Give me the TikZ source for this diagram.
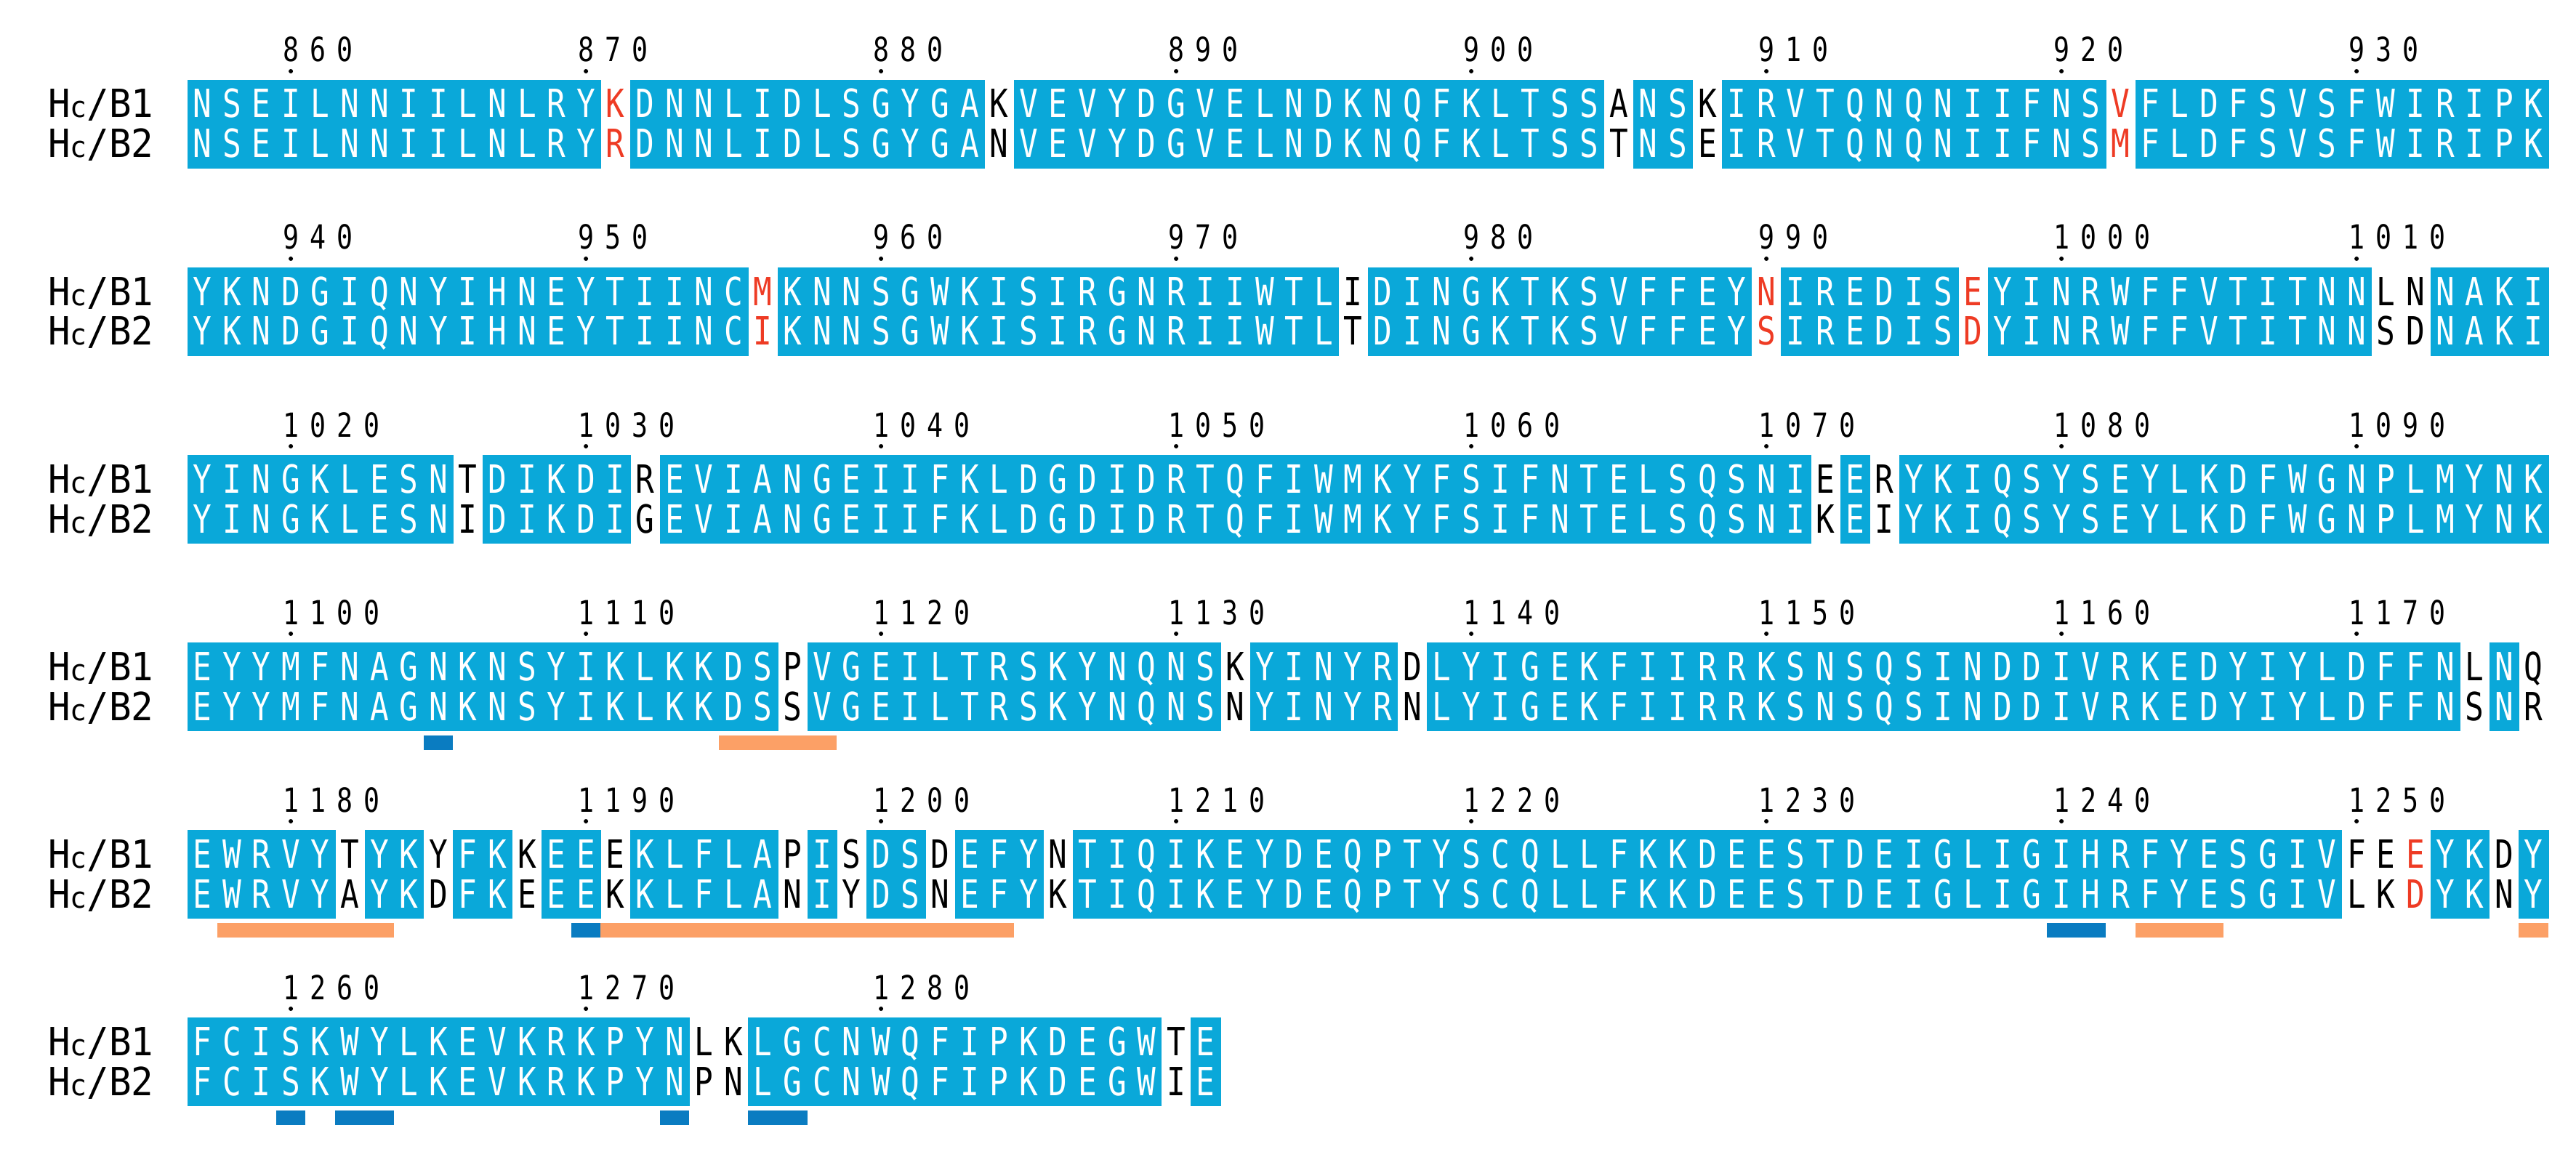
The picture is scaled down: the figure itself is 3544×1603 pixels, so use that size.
\documentclass[tikz,border=0pt]{standalone}
\usepackage{fontspec}
\usepackage{xstring}
\newfontfamily\seqfont[FakeStretch=0.8]{DejaVu Sans Mono}
\newfontfamily\labfont[FakeStretch=0.95]{DejaVu Sans Mono}
\definecolor{hlblue}{HTML}{0AA8D9}
\definecolor{redres}{HTML}{EE3B24}
\definecolor{barblue}{HTML}{0A7CC1}
\definecolor{barorange}{HTML}{FCA066}
\tikzset{
  res/.style={anchor=base,inner sep=0pt,font=\seqfont\fontsize{15.2}{16}\selectfont},
  num/.style={anchor=base,inner sep=0pt,font=\seqfont\fontsize{13}{14}\selectfont},
  lab/.style={anchor=base east,inner sep=0pt,font=\labfont\fontsize{15.2}{16}\selectfont},
  hl/.style={fill=hlblue},
}
\newcommand\seqrow[5]{%
  \pgfmathsetmacro\T{110+258*#1}%
  \node[lab] (labA#1) at (212,\T+52) {H\scalebox{0.75}{c}/B1};
  \node[lab] (labB#1) at (212,\T+107) {H\scalebox{0.75}{c}/B2};
  \StrLen{#2}[\len]%
  \foreach \i in {1,...,\len}{%
    \StrChar{#2}{\i}[\ca]\StrChar{#3}{\i}[\cb]%
    \pgfmathsetmacro\xl{258+(\i-1)*40.6}%
    \ifx\ca\cb
      \fill[hl] (\xl,\T) rectangle ++(41.2,122);
      \def\col{white}%
    \else
      \IfSubStr{#4}{,\i,}{\def\col{redres}}{\def\col{black}}%
    \fi
    \node[res,text=\col] (a#1-\i) at (\xl+20.3,\T+52) {\ca};
    \node[res,text=\col] (b#1-\i) at (\xl+20.3,\T+107) {\cb};
  }%
  \pgfmathtruncatemacro\nk{(\len-6)/10}%
  \foreach \k in {0,...,\nk}{%
    \pgfmathsetmacro\xc{258+(3+10*\k)*40.6+20.3}%
    \pgfmathtruncatemacro\nv{#5+10*\k}%
    \fill (\xc,\T-12) circle (3);
    \StrLen{\nv}[\nl]%
    \foreach \j in {1,...,\nl}{%
      \StrChar{\nv}{\j}[\dg]%
      \node[num] (n#1-\k-\j) at (\xc+\j*37-37,\T-25) {\dg};
    }%
  }%
}
\newcommand\seqbar[4]{% row, from, to, colour
  \pgfmathsetmacro\T{110+258*#1}%
  \fill[#4] ({258+(#2-1)*40.6},\T+128) rectangle ({258+#3*40.6},\T+148);
}
\begin{document}
\begin{tikzpicture}[x=0.01cm,y=-0.01cm]
\useasboundingbox (0,0) rectangle (3544,1603);
\seqrow{0}{NSEILNNIILNLRYKDNNLIDLSGYGAKVEVYDGVELNDKNQFKLTSSANSKIRVTQNQNIIFNSVFLDFSVSFWIRIPK}{NSEILNNIILNLRYRDNNLIDLSGYGANVEVYDGVELNDKNQFKLTSSTNSEIRVTQNQNIIFNSMFLDFSVSFWIRIPK}{,15,66,}{860}
\seqrow{1}{YKNDGIQNYIHNEYTIINCMKNNSGWKISIRGNRIIWTLIDINGKTKSVFFEYNIREDISEYINRWFFVTITNNLNNAKI}{YKNDGIQNYIHNEYTIINCIKNNSGWKISIRGNRIIWTLTDINGKTKSVFFEYSIREDISDYINRWFFVTITNNSDNAKI}{,20,54,61,}{940}
\seqrow{2}{YINGKLESNTDIKDIREVIANGEIIFKLDGDIDRTQFIWMKYFSIFNTELSQSNIEERYKIQSYSEYLKDFWGNPLMYNK}{YINGKLESNIDIKDIGEVIANGEIIFKLDGDIDRTQFIWMKYFSIFNTELSQSNIKEIYKIQSYSEYLKDFWGNPLMYNK}{,0,}{1020}
\seqrow{3}{EYYMFNAGNKNSYIKLKKDSPVGEILTRSKYNQNSKYINYRDLYIGEKFIIRRKSNSQSINDDIVRKEDYIYLDFFNLNQ}{EYYMFNAGNKNSYIKLKKDSSVGEILTRSKYNQNSNYINYRNLYIGEKFIIRRKSNSQSINDDIVRKEDYIYLDFFNSNR}{,0,}{1100}
\seqrow{4}{EWRVYTYKYFKKEEEKLFLAPISDSDEFYNTIQIKEYDEQPTYSCQLLFKKDEESTDEIGLIGIHRFYESGIVFEEYKDY}{EWRVYAYKDFKEEEKKLFLANIYDSNEFYKTIQIKEYDEQPTYSCQLLFKKDEESTDEIGLIGIHRFYESGIVLKDYKNY}{,76,}{1180}
\seqrow{5}{FCISKWYLKEVKRKPYNLKLGCNWQFIPKDEGWTE}{FCISKWYLKEVKRKPYNPNLGCNWQFIPKDEGWIE}{,0,}{1260}
\seqbar{3}{9}{9}{barblue}
\seqbar{3}{19}{22}{barorange}
\seqbar{4}{2}{7}{barorange}
\seqbar{4}{14}{14}{barblue}
\seqbar{4}{15}{28}{barorange}
\seqbar{4}{64}{65}{barblue}
\seqbar{4}{67}{69}{barorange}
\seqbar{4}{80}{80}{barorange}
\seqbar{5}{4}{4}{barblue}
\seqbar{5}{6}{7}{barblue}
\seqbar{5}{17}{17}{barblue}
\seqbar{5}{20}{21}{barblue}
\end{tikzpicture}
\end{document}
